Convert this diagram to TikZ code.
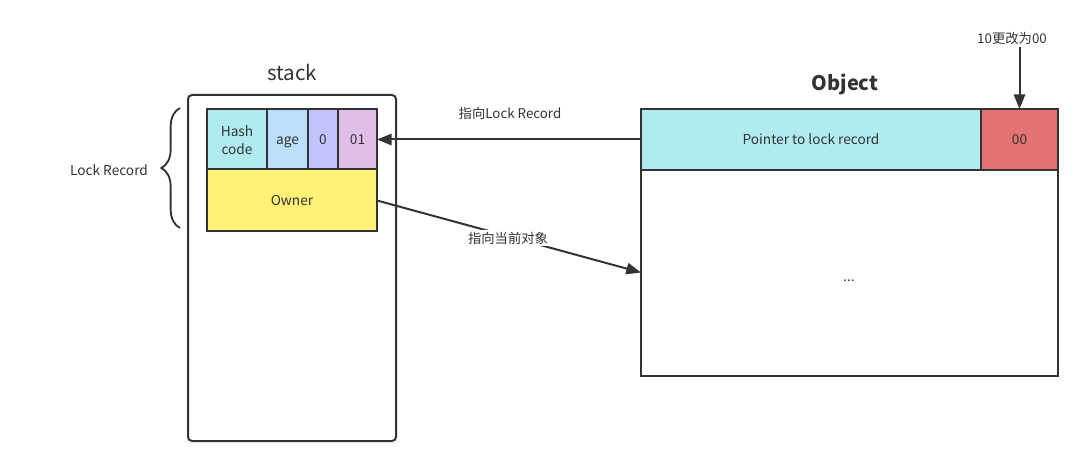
\documentclass[tikz,border=0pt]{standalone}
\usepackage{fontspec}
\setmainfont{Noto Sans CJK SC}
\usetikzlibrary{arrows.meta,decorations.pathreplacing}
\definecolor{ln}{HTML}{333333}
\definecolor{cHash}{HTML}{B1EBF2}
\definecolor{cAge}{HTML}{BBDEFB}
\definecolor{cZero}{HTML}{C5C3FD}
\definecolor{cOne}{HTML}{E1BEE7}
\definecolor{cOwner}{HTML}{FFF176}
\definecolor{cRed}{HTML}{E57373}
\definecolor{tx}{HTML}{333333}
\tikzset{
  cellbase/.style={draw=ln,line width=1.5pt,inner sep=0pt,outer sep=0pt,text=tx,font=\fontsize{10.25}{13}\selectfont,align=center},
  cell/.style={cellbase,text height=10pt,text depth=2.5pt},
  lbl/.style={text=tx,font=\fontsize{10}{12}\selectfont,inner sep=1pt},
  arr/.style={draw=ln,line width=1.5pt,-{Triangle[length=11pt,width=8.5pt]}}
}
\begin{document}
\begin{tikzpicture}[x=0.75pt,y=-0.75pt]
\useasboundingbox (0,0) rectangle (1087,466);
% stack
\node[draw=ln,line width=1.5pt,rounded corners=3pt,minimum width=156pt,minimum height=259.5pt,inner sep=0pt] (stack) at (292,268) {};
\node[text=tx,font=\fontsize{15.4}{17}\selectfont] (stacklbl) at (292,72) {stack};
\node[cellbase,fill=cHash,minimum width=45pt,minimum height=45.75pt] (hash) at (237,140) {Hash\\code};
\node[cell,fill=cAge,minimum width=30.75pt,minimum height=45.75pt] (age) at (287.5,139.5) {age};
\node[cell,fill=cZero,minimum width=22.5pt,minimum height=45.75pt] (zero) at (323,139.5) {0};
\node[cell,fill=cOne,minimum width=29.25pt,minimum height=45.75pt] (one) at (357.5,139.5) {01};
\node[cell,fill=cOwner,minimum width=127.5pt,minimum height=46.5pt] (owner) at (292,200.5) {Owner};
% brace
\coordinate (bt) at (180,108);
\coordinate (bb) at (180,228);
\draw[ln,line width=1.4pt,decorate,decoration={brace,amplitude=14pt,aspect=0.5}] (bb) -- (bt);
\node[lbl,font=\fontsize{10.25}{12}\selectfont] (lr) at (109,170) {Lock Record};
% object
\node[text=tx,font=\bfseries\fontsize{15}{17}\selectfont] (objlbl) at (845,84) {Object};
\node[cell,minimum width=312.75pt,minimum height=155.25pt] (body) at (849.5,272.5) {};
\node[lbl,font=\fontsize{10.25}{12}\selectfont] (dots) at (849,281) {...};
\node[cell,fill=cHash,minimum width=255pt,minimum height=45.75pt] (ptr) at (811,139.5) {Pointer to lock record};
\node[cell,fill=cRed,minimum width=57.75pt,minimum height=45.75pt] (zz) at (1019.5,139.5) {00};
% arrows
\draw[arr] (ptr.west) -- (one.east);
\node[lbl] (l1) at (510,113.5) {指向Lock Record};
\draw[arr] (owner.east) -- (body.west);
\node[lbl,fill=white] (l2) at (508,238) {指向当前对象};
\node[lbl] (l3) at (1012,38) {10更改为00};
\coordinate (ts) at (1019.5,47);
\draw[arr] (ts) -- (zz.north);
\end{tikzpicture}
\end{document}
